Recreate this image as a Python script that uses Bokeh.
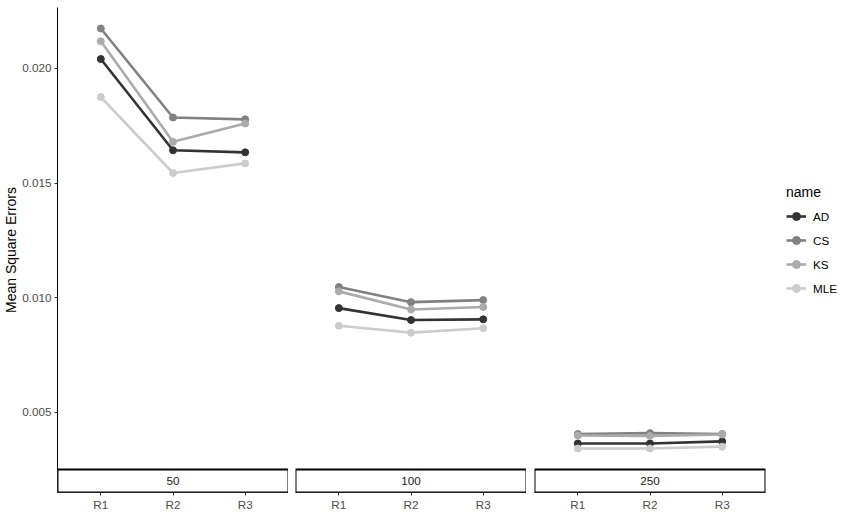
from bokeh.plotting import figure
from bokeh.layouts import row
from bokeh.models import (FactorRange, Range1d, FixedTicker, PrintfTickFormatter,
                          BoxAnnotation, Legend, LegendItem)
from bokeh.core.properties import value
from bokeh.embed import file_html
from bokeh.resources import INLINE

# ---- data ----
regions = ["R1", "R2", "R3"]
sizes = ["50", "100", "250"]
methods = ["AD", "CS", "KS", "MLE"]

ad_50 = [0.02041, 0.01643, 0.01634]
cs_50 = [0.02174, 0.01786, 0.01778]
ks_50 = [0.02118, 0.01680, 0.01760]
mle_50 = [0.01875, 0.01544, 0.01586]

ad_100 = [0.00955, 0.00903, 0.00906]
cs_100 = [0.01047, 0.00981, 0.00990]
ks_100 = [0.01028, 0.00949, 0.00960]
mle_100 = [0.00878, 0.00848, 0.00867]

ad_250 = [0.00365, 0.00365, 0.00374]
cs_250 = [0.00406, 0.00410, 0.00406]
ks_250 = [0.00400, 0.00398, 0.00404]
mle_250 = [0.00343, 0.00343, 0.00351]

y_ticks = [0.005, 0.010, 0.015, 0.020]

panels = {
    "50": {"AD": ad_50, "CS": cs_50, "KS": ks_50, "MLE": mle_50},
    "100": {"AD": ad_100, "CS": cs_100, "KS": ks_100, "MLE": mle_100},
    "250": {"AD": ad_250, "CS": cs_250, "KS": ks_250, "MLE": mle_250},
}

colors = {"AD": "#333333", "CS": "#818181", "KS": "#ABABAB", "MLE": "#CCCCCC"}

FONT = "Liberation Sans"
PANEL_H = 462
STRIP_H = 23
FRAME_W = 231

allv = [v for d in panels.values() for s in d.values() for v in s]
lo, hi = min(allv), max(allv)
span = hi - lo
lo -= 0.05 * span
hi += 0.05 * span
strip_units = STRIP_H * (hi - lo) / PANEL_H
y_range = Range1d(lo - strip_units, hi)

figs = []
legend_renderers = {}
for i, size in enumerate(sizes):
    p = figure(
        x_range=FactorRange(factors=regions, range_padding=0.1, range_padding_units="absolute"),
        y_range=y_range,
        frame_width=FRAME_W, frame_height=PANEL_H + STRIP_H,
        output_backend="svg", toolbar_location=None,
        y_axis_location="left" if i == 0 else None,
        min_border_left=49 if i == 0 else (7 if i == 1 else 8),
        min_border_right=0 if i < 2 else 75,
        min_border_top=7, min_border_bottom=0,
    )
    p.title.visible = False
    p.outline_line_color = None
    p.grid.visible = False
    p.background_fill_color = "white"
    p.border_fill_color = "white"

    xa = p.xaxis[0]
    xa.axis_line_color = "black"
    xa.axis_line_width = 1
    xa.major_tick_out = 3
    xa.major_tick_in = 0
    xa.major_tick_line_color = "#333333"
    xa.minor_tick_line_color = None
    xa.major_label_text_font = FONT
    xa.major_label_text_font_size = "11.7px"
    xa.major_label_text_color = "#4D4D4D"
    xa.major_label_standoff = 2

    if i == 0:
        ya = p.yaxis[0]
        ya.ticker = FixedTicker(ticks=y_ticks)
        ya.formatter = PrintfTickFormatter(format="%.3f")
        ya.axis_line_color = "black"
        ya.axis_line_width = 1
        ya.major_tick_out = 3
        ya.major_tick_in = 0
        ya.major_tick_line_color = "#333333"
        ya.minor_tick_line_color = None
        ya.major_label_text_font = FONT
        ya.major_label_text_font_size = "11.7px"
        ya.major_label_text_color = "#4D4D4D"
        ya.major_label_standoff = 3
        ya.axis_label = "Mean Square Errors"
        ya.axis_label_text_font = FONT
        ya.axis_label_text_font_size = "14px"
        ya.axis_label_text_font_style = "normal"
        ya.axis_label_text_color = "black"
        ya.axis_label_standoff = 0

    for m in methods:
        vals = panels[size][m]
        r = p.line(x=regions, y=vals, line_color=colors[m], line_width=2.6)
        c = p.scatter(x=regions, y=vals, size=7, fill_color=colors[m], line_color=colors[m])
        if i == 2:
            legend_renderers[m] = [r, c]

    # strip at the bottom of the panel
    strip = BoxAnnotation(top=lo, fill_color="white", fill_alpha=1.0,
                          line_color="black", line_alpha=1.0, line_width=2)
    p.add_layout(strip)
    p.text(x=["R2"], y=[lo - strip_units / 2], text=[size],
           text_font=value(FONT), text_font_size="11.7px", text_color="#1A1A1A",
           text_align="center", text_baseline="middle", level="overlay")
    figs.append(p)

p3 = figs[2]
legend = Legend(
    items=[LegendItem(label=m, renderers=legend_renderers[m]) for m in methods],
    title="name", title_text_font=FONT, title_text_font_size="14px",
    title_text_font_style="normal",
    title_text_color="black", title_standoff=6,
    label_text_font=FONT, label_text_font_size="11.7px", label_text_color="black",
    glyph_width=20, glyph_height=20, label_height=20, spacing=4, label_standoff=7,
    padding=0, margin=0, border_line_color=None, background_fill_alpha=0,
    location=(21, 194),
)
p3.add_layout(legend, "right")

layout = row(*figs, spacing=0)
open("out.html", "w").write(file_html(layout, INLINE))
